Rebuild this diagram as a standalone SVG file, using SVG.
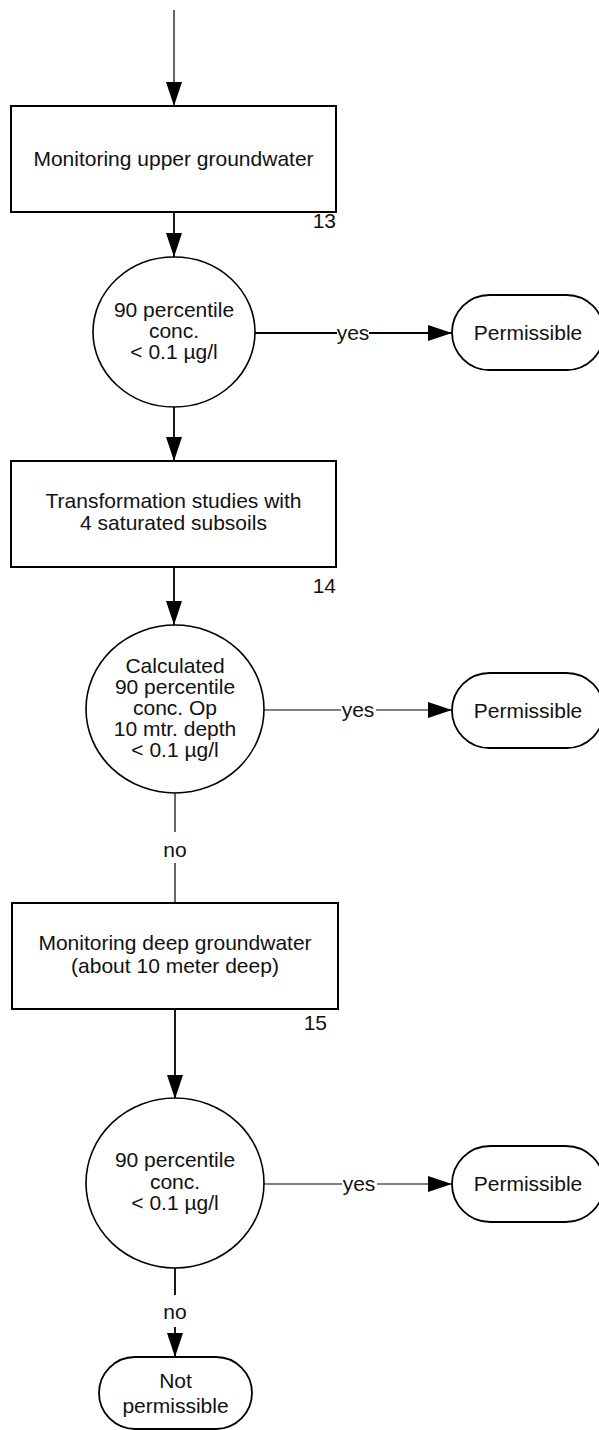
<svg xmlns="http://www.w3.org/2000/svg" width="599" height="1430" viewBox="0 0 599 1430">
<style>
text{font-family:"Liberation Sans",Arial,sans-serif;font-size:21px;fill:#111;}
.c{text-anchor:middle;}
.n{text-anchor:end;}
.box{fill:#fff;stroke:#000;stroke-width:2;}
.dec{fill:#fff;stroke:#000;stroke-width:1.6;}
.term{fill:#fff;stroke:#000;stroke-width:1.8;}
.ln{fill:none;stroke:#000;stroke-width:1.8;}
.thin{fill:none;stroke:#000;stroke-width:1.2;}
</style>
<defs>
<marker id="ah" markerUnits="userSpaceOnUse" markerWidth="24" markerHeight="16" refX="24" refY="8" orient="auto">
<path d="M0,0 L24,8 L0,16 Z" fill="#000"/>
</marker>
</defs>
<rect width="599" height="1430" fill="#fff"/>
<g id="connectors">
<line class="thin" x1="174" y1="10" x2="174" y2="106" marker-end="url(#ah)"/>
<line class="ln" x1="174" y1="212" x2="174" y2="257" marker-end="url(#ah)"/>
<line class="ln" x1="255" y1="333" x2="337" y2="333"/>
<text class="c" x="353" y="340">yes</text>
<line class="ln" x1="369" y1="333" x2="452" y2="333" marker-end="url(#ah)"/>
<line class="ln" x1="174" y1="407" x2="174" y2="461" marker-end="url(#ah)"/>
<line class="ln" x1="174" y1="567" x2="174" y2="625" marker-end="url(#ah)"/>
<line class="thin" x1="264" y1="710" x2="341" y2="710"/>
<text class="c" x="358" y="717">yes</text>
<line class="thin" x1="376" y1="710" x2="452" y2="710" marker-end="url(#ah)"/>
<line class="thin" x1="175" y1="793" x2="175" y2="832"/>
<text class="c" x="175" y="857">no</text>
<line class="thin" x1="175" y1="863" x2="175" y2="903"/>
<line class="ln" x1="175" y1="1009" x2="175" y2="1099" marker-end="url(#ah)"/>
<line class="thin" x1="264" y1="1184" x2="342" y2="1184"/>
<text class="c" x="359" y="1191">yes</text>
<line class="thin" x1="377" y1="1184" x2="452" y2="1184" marker-end="url(#ah)"/>
<line class="ln" x1="175" y1="1268" x2="175" y2="1295"/>
<text class="c" x="175" y="1319">no</text>
<line class="ln" x1="175" y1="1327" x2="175" y2="1357" marker-end="url(#ah)"/>
</g>
<g id="box1">
<rect class="box" x="11" y="106" width="325" height="106"/>
<text class="c" x="173.5" y="166">Monitoring upper groundwater</text>
<text class="n" x="336" y="228">13</text>
</g>
<g id="decision1">
<ellipse class="dec" cx="174" cy="332" rx="81" ry="75"/>
<text class="c" x="174" y="317">90 percentile</text>
<text class="c" x="174" y="338">conc.</text>
<text class="c" x="174" y="359">&lt; 0.1 µg/l</text>
</g>
<g id="permissible1">
<rect class="term" x="452" y="295" width="152" height="75" rx="37.5"/>
<text class="c" x="528" y="340">Permissible</text>
</g>
<g id="box2">
<rect class="box" x="11" y="461" width="325" height="106"/>
<text class="c" x="173.5" y="508">Transformation studies with</text>
<text class="c" x="173.5" y="530">4 saturated subsoils</text>
<text class="n" x="336" y="593">14</text>
</g>
<g id="decision2">
<ellipse class="dec" cx="175" cy="709" rx="89" ry="84"/>
<text class="c" x="175" y="673">Calculated</text>
<text class="c" x="175" y="694">90 percentile</text>
<text class="c" x="175" y="715">conc. Op</text>
<text class="c" x="175" y="736">10 mtr. depth</text>
<text class="c" x="175" y="757">&lt; 0.1 µg/l</text>
</g>
<g id="permissible2">
<rect class="term" x="452" y="673" width="152" height="75" rx="37.5"/>
<text class="c" x="528" y="718">Permissible</text>
</g>
<g id="box3">
<rect class="box" x="12" y="903" width="326" height="106"/>
<text class="c" x="175" y="950">Monitoring deep groundwater</text>
<text class="c" x="175" y="973">(about 10 meter deep)</text>
<text class="n" x="327" y="1030">15</text>
</g>
<g id="decision3">
<ellipse class="dec" cx="175" cy="1183" rx="89" ry="85"/>
<text class="c" x="175" y="1167">90 percentile</text>
<text class="c" x="175" y="1189">conc.</text>
<text class="c" x="175" y="1210">&lt; 0.1 µg/l</text>
</g>
<g id="permissible3">
<rect class="term" x="452" y="1146" width="152" height="76" rx="38"/>
<text class="c" x="528" y="1191">Permissible</text>
</g>
<g id="notpermissible">
<rect class="term" x="99" y="1357" width="153" height="72" rx="36"/>
<text class="c" x="175.5" y="1388">Not</text>
<text class="c" x="175.5" y="1413">permissible</text>
</g>
</svg>
